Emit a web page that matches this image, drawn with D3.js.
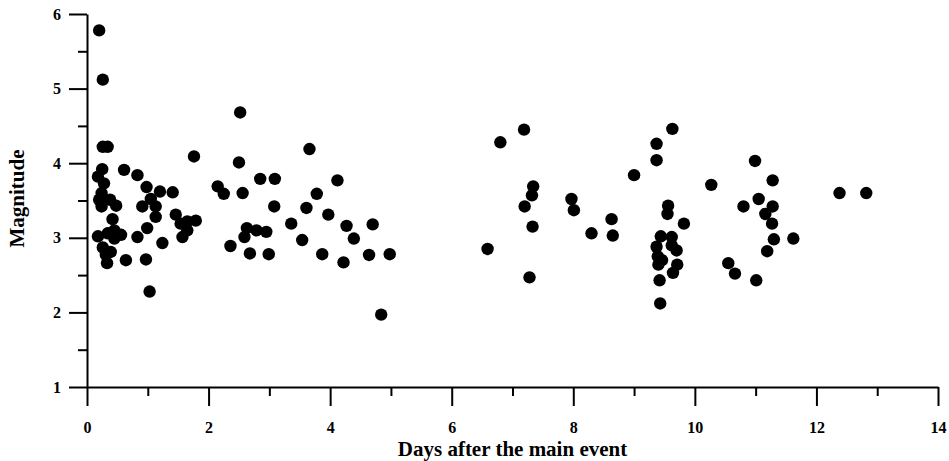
<!DOCTYPE html>
<html>
<head>
<meta charset="utf-8">
<script src="https://cdn.jsdelivr.net/npm/d3@7"></script>
<style>
  html, body { margin: 0; padding: 0; background: #fff; }
  svg { display: block; }
  text { font-family: "Liberation Serif", "Times New Roman", serif; font-weight: bold; fill: #000; }
</style>
</head>
<body>
<svg id="chart" width="949" height="461"></svg>
<script>
// Days after the main event
const days = [
  0.20,0.26,0.26,0.34,0.25,0.18,0.28,0.24,0.20,0.24,0.38,0.48,0.61,0.83,0.98,1.05,0.91,1.13,1.13,1.20,
  1.41,1.46,1.54,1.65,1.79,1.65,1.57,1.76,0.42,0.99,0.18,0.34,0.45,0.56,0.45,0.83,1.24,0.26,0.39,0.31,
  0.33,0.64,0.97,1.03,
  2.15,2.25,2.36,2.52,3.66,2.50,2.56,2.85,3.09,4.12,3.78,3.08,3.61,3.97,3.36,4.27,4.70,2.63,2.79,2.95,
  2.59,3.54,4.39,2.68,2.99,3.87,4.22,4.64,4.98,4.84,
  6.59,6.80,7.19,7.34,7.32,7.20,7.33,7.28,7.97,8.01,8.30,8.63,8.65,9.00,9.37,9.37,9.63,9.56,9.55,9.82,
  9.44,9.62,9.37,9.62,9.70,9.39,9.46,9.40,9.71,9.64,9.42,9.43,10.27,10.99,11.28,12.38,12.82,11.05,10.80,11.28,
  11.16,11.27,11.30,11.62,11.19,10.55,10.66,11.01
];
// Magnitude
const magnitudes = [
  5.78,5.12,4.22,4.22,3.92,3.82,3.73,3.60,3.51,3.42,3.51,3.43,3.91,3.84,3.68,3.52,3.42,3.42,3.28,3.62,
  3.61,3.31,3.19,3.22,3.23,3.10,3.01,4.09,3.25,3.13,3.02,3.06,3.10,3.04,2.99,3.01,2.93,2.87,2.81,2.77,
  2.66,2.70,2.71,2.28,
  3.69,3.59,2.89,4.68,4.19,4.01,3.60,3.79,3.79,3.77,3.59,3.42,3.40,3.31,3.19,3.16,3.18,3.13,3.10,3.08,
  3.01,2.97,2.99,2.79,2.78,2.78,2.67,2.77,2.78,1.97,
  2.85,4.28,4.45,3.69,3.57,3.42,3.15,2.47,3.52,3.37,3.06,3.25,3.03,3.84,4.26,4.04,4.46,3.43,3.32,3.19,
  3.02,3.01,2.88,2.90,2.83,2.75,2.70,2.64,2.64,2.53,2.43,2.12,3.71,4.03,3.77,3.60,3.60,3.52,3.42,3.42,
  3.32,3.19,2.98,2.99,2.82,2.66,2.52,2.43
];
const xMajorTicks = [0, 2, 4, 6, 8, 10, 12, 14];
const xMinorTicks = [1, 3, 5, 7, 9, 11, 13];
const yMajorTicks = [1, 2, 3, 4, 5, 6];
const yMinorTicks = [1.5, 2.5, 3.5, 4.5, 5.5];
const xTitle = "Days after the main event";
const yTitle = "Magnitude";

const points = days.map((d, i) => ({ x: d, y: magnitudes[i] }));

const svg = d3.select("#chart");
const x = d3.scaleLinear().domain([0, 14]).range([87, 938]);
const y = d3.scaleLinear().domain([1, 6]).range([387, 14]);

// Axis lines and ticks
const xAxisG = svg.append("g").attr("transform", `translate(0,${y(1)})`);
xAxisG.call(d3.axisBottom(x).tickValues(xMajorTicks).tickSize(19).tickPadding(16).tickSizeOuter(0).tickFormat(d3.format("d")));
const xMinorG = svg.append("g").attr("transform", `translate(0,${y(1)})`);
xMinorG.call(d3.axisBottom(x).tickValues(xMinorTicks).tickSize(9).tickFormat("").tickSizeOuter(0));
xMinorG.select(".domain").remove();

const yAxisG = svg.append("g").attr("transform", `translate(${x(0)},0)`);
yAxisG.call(d3.axisLeft(y).tickValues(yMajorTicks).tickSize(18).tickPadding(8).tickSizeOuter(0).tickFormat(d3.format("d")));
const yMinorG = svg.append("g").attr("transform", `translate(${x(0)},0)`);
yMinorG.call(d3.axisLeft(y).tickValues(yMinorTicks).tickSize(9).tickFormat("").tickSizeOuter(0));
yMinorG.select(".domain").remove();

svg.selectAll(".domain, .tick line").attr("stroke", "#000").attr("stroke-width", 2);
svg.selectAll("g").attr("font-size", null).attr("font-family", null);
svg.selectAll(".tick text")
  .style("font-family", "'Liberation Serif', 'Times New Roman', serif")
  .style("font-weight", "bold")
  .style("font-size", "16px")
  .attr("fill", "#000");

// Points
svg.append("g").selectAll("circle").data(points).join("circle")
  .attr("cx", d => x(d.x))
  .attr("cy", d => y(d.y))
  .attr("r", 6.2)
  .attr("fill", "#000");

// Titles
svg.append("text")
  .attr("x", (x(0) + x(14)) / 2)
  .attr("y", 456)
  .attr("text-anchor", "middle")
  .style("font-size", "21px")
  .text(xTitle);

svg.append("text")
  .attr("transform", `translate(24,198.5) rotate(-90)`)
  .attr("text-anchor", "middle")
  .style("font-size", "21px")
  .text(yTitle);
</script>
</body>
</html>
